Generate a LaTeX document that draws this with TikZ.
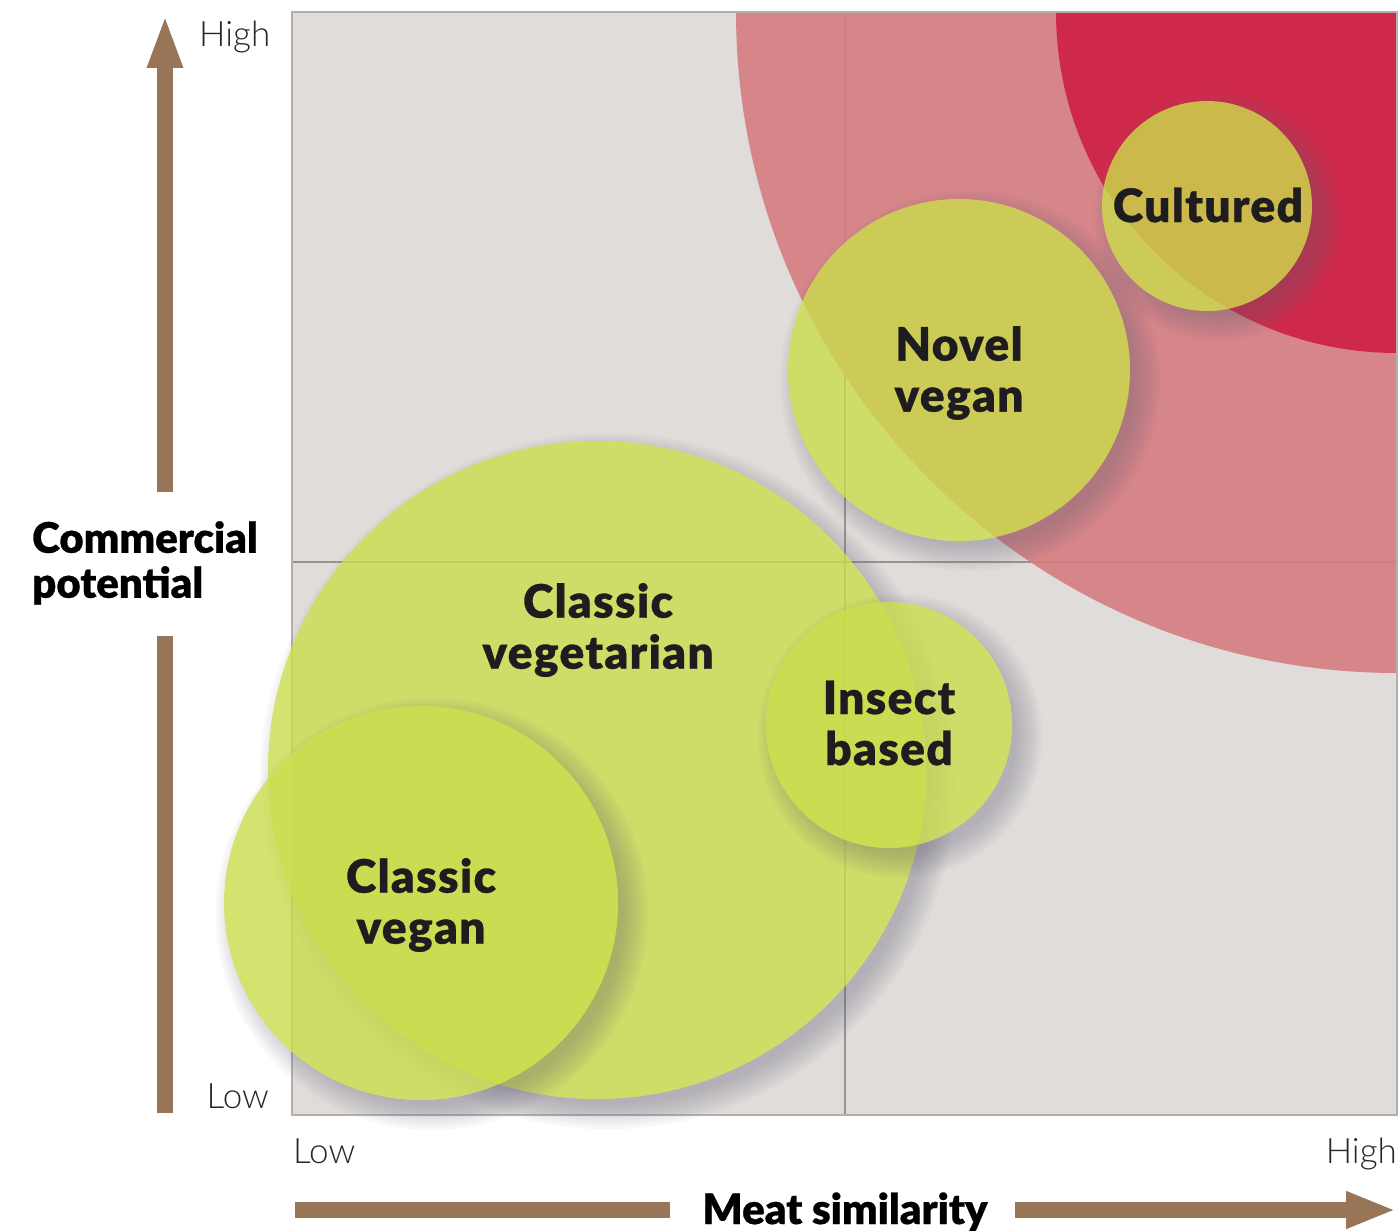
\documentclass[tikz,border=0pt]{standalone}
\usepackage{fontspec}
\usetikzlibrary{arrows.meta}
\newfontfamily\heavyfont{Lato Black}[LetterSpace=3,FakeBold=0.6]
\newfontfamily\titlefont{Lato Black}[FakeBold=0.6]
\newfontfamily\lightfont{Lato Light}

\definecolor{plotgray}{RGB}{223,220,217}
\definecolor{framegray}{RGB}{178,175,173}
\definecolor{gridgray}{RGB}{150,148,147}
\definecolor{rosezone}{RGB}{214,124,129}
\definecolor{redzone}{RGB}{207,32,68}
\definecolor{lime}{RGB}{202,221,76}
\definecolor{axisbrown}{RGB}{152,117,86}
\definecolor{shadecol}{RGB}{105,100,125}
\definecolor{ink}{RGB}{30,28,30}

% soft drop shadow cast to the lower right of a disc, kept outside the disc:
% centre x, centre y, radius
\newcommand\softshade[3]{%
  \begin{scope}[even odd rule]
    \clip (0,0) rectangle (1400,1231) (#1,#2) circle (#3);
    \foreach \k in {0,...,9}{%
      \fill[shadecol, opacity=0.04] ({#1+11},{#2+11}) circle ({#3-6+2.8*\k});
    }
  \end{scope}}

\tikzset{
  bubble/.style={circle, inner sep=0pt, draw=none, fill=lime, fill opacity=0.8, minimum size=#1},
  tag/.style={font=\heavyfont\fontsize{46}{51}\selectfont, text=ink, align=center, inner sep=0pt},
  axislabel/.style={font=\titlefont\fontsize{42}{45}\selectfont, text=black, inner sep=0pt},
  endlabel/.style={font=\lightfont\fontsize{35}{40}\selectfont, text=black!85, inner sep=0pt},
  axisbar/.style={line width=16pt, axisbrown},
}

\begin{document}
\begin{tikzpicture}[x=1pt,y=-1pt]
\useasboundingbox (0,0) rectangle (1400,1231);
\fill[white] (0,0) rectangle (1400,1231);

% plot area
\coordinate (plotNW) at (292,12);
\coordinate (plotSE) at (1397,1115);
\fill[plotgray] (plotNW) rectangle (plotSE);

% quadrant dividers
\coordinate (midtop) at (845,12);
\coordinate (midbot) at (845,1115);
\coordinate (midleft) at (292,562);
\coordinate (midright) at (1397,562);
\draw[gridgray, line width=1.6pt] (midtop) -- (midbot) (midleft) -- (midright);

% target zones around the top-right corner
\begin{scope}
  \clip (plotNW) rectangle (plotSE);
  \fill[rosezone, fill opacity=0.9] (1397,12) circle (661);
  \fill[redzone, fill opacity=0.9] (1397,12) circle (341);
\end{scope}
\draw[framegray, line width=2.4pt] (plotNW) rectangle (plotSE);

% product bubbles
\softshade{597}{770}{329}
\node[bubble=658pt] (vegetarian) at (597,770) {};
\softshade{889}{725}{123}
\node[bubble=246pt] (insect) at (889,725) {};
\softshade{421}{903}{197}
\node[bubble=394pt] (vegan) at (421,903) {};
\softshade{959}{370}{171}
\node[bubble=342pt] (novel) at (959,370) {};
\softshade{1207}{206}{105}
\node[bubble=210pt] (cultured) at (1207,206) {};

% bubble labels
\node[tag] (vegetarianlabel) at (598,630) {Classic\\vegetarian};
\node[tag] (insectlabel) at (889,723) {Insect\\based};
\node[tag] (veganlabel) at (421,905) {Classic\\vegan};
\node[tag] (novellabel) at (959,373) {Novel\\vegan};
\node[tag] (culturedlabel) at (1208,205) {Cultured};

% vertical axis arrow
\coordinate (ybottom) at (165,1113);
\coordinate (ygapbot) at (165,636);
\coordinate (ygaptop) at (165,492);
\coordinate (ytip) at (165,14);
\draw[axisbar] (ybottom) -- (ygapbot);
\draw[axisbar, -{Triangle[width=32pt,length=54pt]}] (ygaptop) -- (ytip);

% horizontal axis arrow
\coordinate (xleft) at (295,1210);
\coordinate (xgapleft) at (670,1210);
\coordinate (xgapright) at (1015,1210);
\coordinate (xtip) at (1396,1210);
\draw[axisbar] (xleft) -- (xgapleft);
\draw[axisbar, -{Triangle[width=34pt,length=50pt]}] (xgapright) -- (xtip);

% axis titles and end labels
\node[axislabel, align=left, anchor=north west] (ytitle) at (32,521) {Commercial\\potential};
\node[axislabel, anchor=base] (xtitle) at (845,1224) {Meat similarity};
\node[endlabel, anchor=base west] (yhigh) at (199,47) {High};
\node[endlabel, anchor=base east] (ylow) at (269,1108) {Low};
\node[endlabel, anchor=base west] (xlow) at (293,1163) {Low};
\node[endlabel, anchor=base east] (xhigh) at (1397,1163) {High};
\end{tikzpicture}
\end{document}
